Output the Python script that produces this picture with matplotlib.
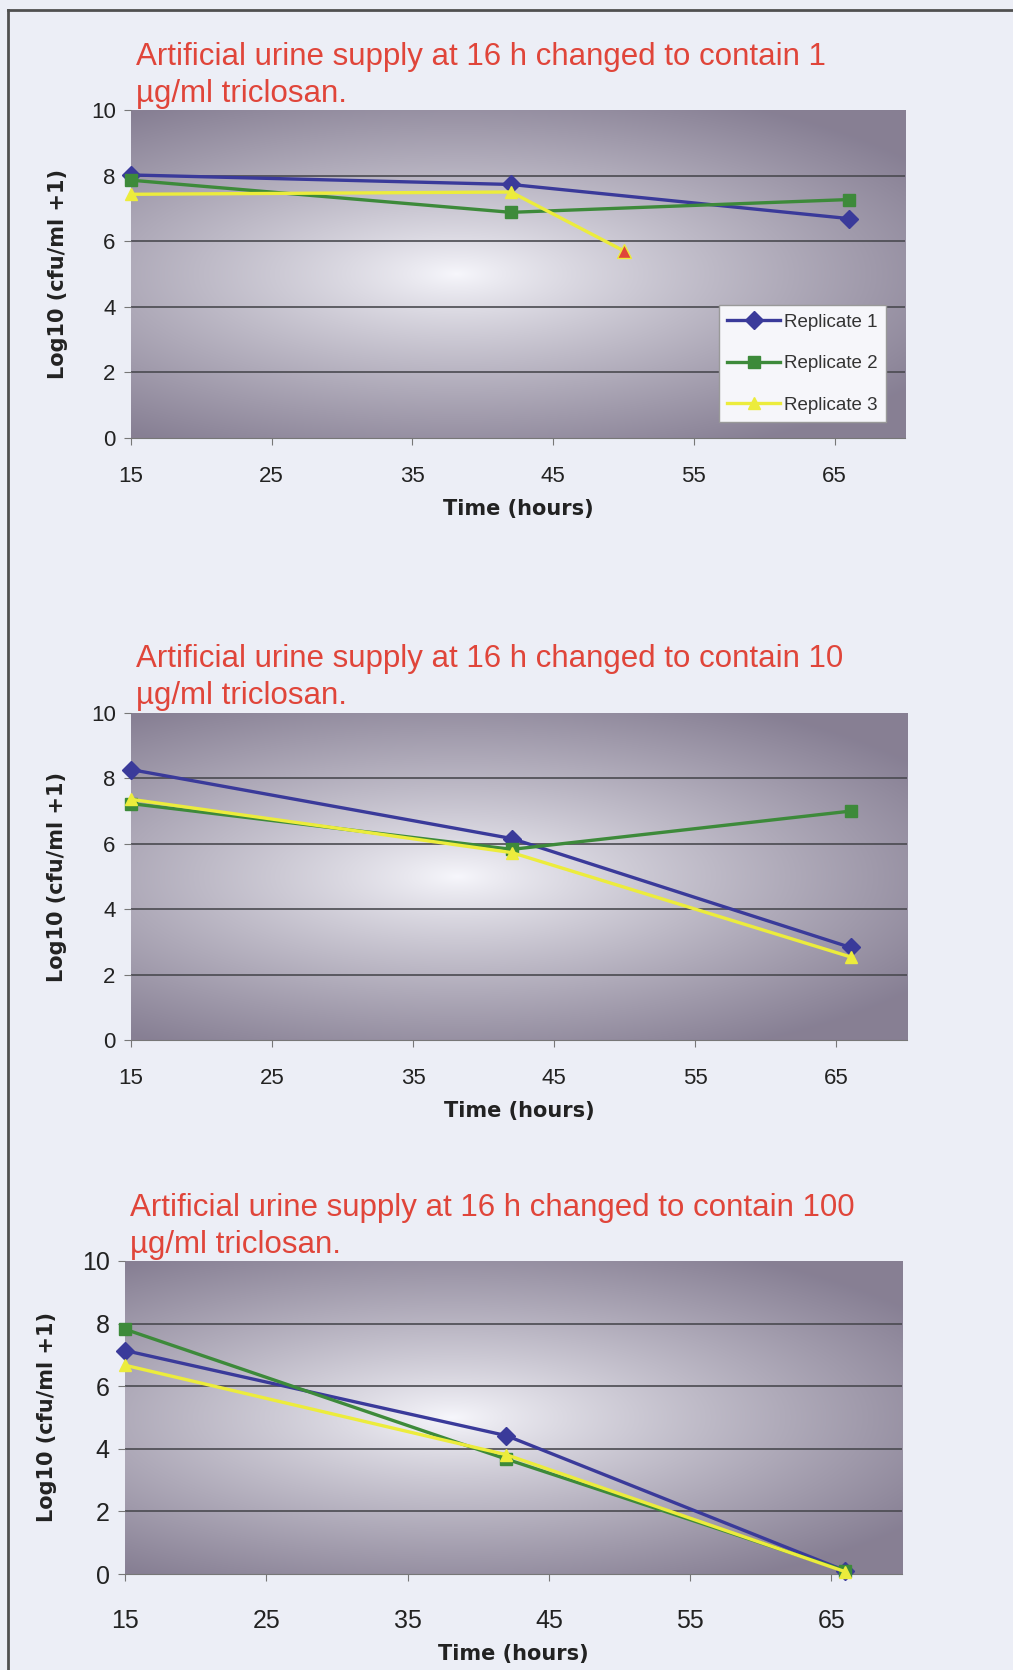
import matplotlib.pyplot as plt
import numpy as np
from matplotlib.lines import Line2D

plt.rcParams['font.family'] = ['Liberation Sans', 'DejaVu Sans']

# data
hours = [15, 42, 66]
hours_r3_1 = [15, 42, 50]

p1_rep1 = [8.02, 7.73, 6.69]
p1_rep2 = [7.86, 6.88, 7.27]
p1_rep3 = [7.43, 7.50, 5.71]

p2_rep1 = [8.27, 6.16, 2.83]
p2_rep2 = [7.23, 5.83, 7.00]
p2_rep3 = [7.36, 5.73, 2.54]

p3_rep1 = [7.14, 4.42, 0.10]
p3_rep2 = [7.82, 3.67, 0.10]
p3_rep3 = [6.67, 3.81, 0.07]

titles = ["Artificial urine supply at 16 h changed to contain 1\n\u00b5g/ml triclosan.",
          "Artificial urine supply at 16 h changed to contain 10\n\u00b5g/ml triclosan.",
          "Artificial urine supply at 16 h changed to contain 100\n\u00b5g/ml triclosan."]
labels = ['Replicate 1', 'Replicate 2', 'Replicate 3']
xticks = [15, 25, 35, 45, 55, 65]
yticks = [0, 2, 4, 6, 8, 10]

c1 = '#3a3a9a'
c2 = '#3d8a3a'
c3 = '#ecec3c'
red = '#e0453a'
page = '#eceef6'

W, H = 1013, 1670
fig = plt.figure(figsize=(W / 100, H / 100), dpi=100)
fig.patch.set_facecolor(page)

# page frame (left and top edges)
fig.add_artist(Line2D([8 / W, 8 / W], [0, 1 - 10 / H], color='#505050', lw=2))
fig.add_artist(Line2D([8 / W, 1], [1 - 10 / H, 1 - 10 / H], color='#505050', lw=2))


def gradient():
    gx, gy = np.meshgrid(np.linspace(0, 1, 300), np.linspace(0, 1, 200))
    r = np.sqrt(((gx - 0.42) / 0.72) ** 2 + ((gy - 0.5) / 0.6) ** 2)
    t = np.clip(r, 0, 1) ** 0.85
    cen = np.array([0.97, 0.97, 0.99])
    edge = np.array([0.53, 0.50, 0.58])
    return cen + (edge - cen) * t[..., None]


def panel(rect, title, tx, ty, series, ylx, tsize, pad, lpad):
    ax = fig.add_axes(rect)
    ax.set_facecolor('none')
    ax.imshow(gradient(), extent=[0, 1, 0, 1], transform=ax.transAxes,
              aspect='auto', zorder=0, interpolation='bilinear')
    ax.set_xlim(15, 70)
    ax.set_ylim(0, 10)
    for y in [2, 4, 6, 8]:
        ax.axhline(y, color='#4a4a50', lw=1.2, zorder=1)
    for s in ['top', 'right']:
        ax.spines[s].set_visible(False)
    ax.spines['left'].set_visible(False)
    ax.spines['bottom'].set_color('#777777')
    ax.set_xticks(xticks)
    ax.set_yticks(yticks)
    ax.tick_params(axis='x', direction='out', length=5, color='#777777',
                   labelsize=tsize, pad=pad, labelcolor='#222222')
    ax.tick_params(axis='y', direction='out', length=5, color='#777777',
                   labelsize=tsize, pad=6, labelcolor='#222222')
    ax.set_xlabel('Time (hours)', fontsize=15, fontweight='bold', labelpad=lpad,
                  family='DejaVu Sans', color='#222222')
    ax.set_ylabel('Log10 (cfu/ml +1)', fontsize=15, fontweight='bold',
                  family='DejaVu Sans', color='#222222')
    ax.yaxis.set_label_coords(ylx, 0.5)
    fig.text(tx, ty, title, color=red, fontsize=22.5, va='top', ha='left',
             linespacing=1.3)
    hs = []
    for (xs, ys), col, mk, lab in zip(series, [c1, c2, c3], ['D', 's', '^'], labels):
        h, = ax.plot(xs, ys, color=col, lw=2.4, marker=mk, ms=9, mfc=col,
                     mec=col, label=lab, zorder=3, clip_on=False)
        hs.append(h)
    return ax, hs


ax1, hs = panel([131 / W, 1 - 438 / H, 774 / W, 328 / H], titles[0],
                136 / W, 1 - 42 / H,
                [(hours, p1_rep1), (hours, p1_rep2), (hours_r3_1, p1_rep3)],
                -0.082, 16, 15, 9)
# last replicate 3 point drawn as a red marker
ax1.plot(hours_r3_1[-1:], p1_rep3[-1:], ls='none', marker='^', ms=10,
         mfc=red, mec=c3, zorder=4)
leg = ax1.legend(handles=hs, loc='upper right', bbox_to_anchor=(0.975, 0.405),
                 fontsize=13.5, handlelength=2.8, frameon=True, fancybox=False,
                 borderpad=0.45, labelspacing=1.3, handletextpad=0.2,
                 borderaxespad=0)
leg.get_frame().set_edgecolor('#999999')
leg.get_frame().set_facecolor('#f6f6fa')
leg.get_frame().set_alpha(1)
for t in leg.get_texts():
    t.set_color('#333333')

panel([131 / W, 1 - 1040 / H, 776 / W, 327 / H], titles[1],
      136 / W, 1 - 644 / H,
      [(hours, p2_rep1), (hours, p2_rep2), (hours, p2_rep3)],
      -0.082, 16, 15, 9)

panel([125 / W, 1 - 1574 / H, 777 / W, 313 / H], titles[2],
      130 / W, 1 - 1193 / H,
      [(hours, p3_rep1), (hours, p3_rep2), (hours, p3_rep3)],
      -0.087, 18, 20, 8)

fig.savefig('out.png', dpi=100, facecolor=page)
